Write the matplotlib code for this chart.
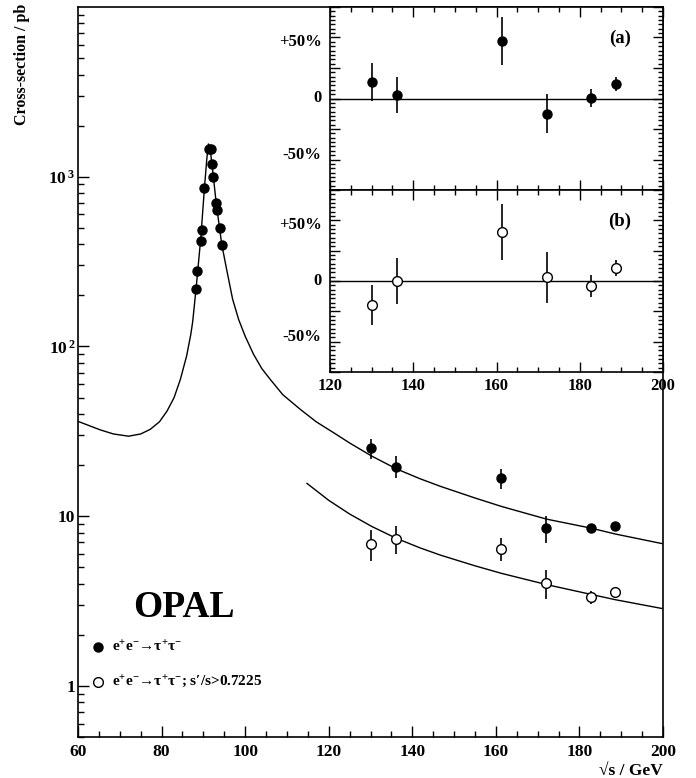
import numpy as np
import matplotlib.pyplot as plt
from matplotlib.ticker import MultipleLocator, FixedLocator, NullFormatter, LogLocator
import matplotlib.transforms as mtransforms

plt.rcParams['font.family'] = ['Liberation Serif', 'DejaVu Serif']
plt.rcParams['font.weight'] = 'bold'
plt.rcParams['mathtext.fontset'] = 'custom'
plt.rcParams['mathtext.rm'] = 'Liberation Serif:bold'
plt.rcParams['mathtext.it'] = 'Liberation Serif:bold'
plt.rcParams['mathtext.bf'] = 'Liberation Serif:bold'
plt.rcParams['mathtext.default'] = 'rm'

# --- data ---
# LEP1 (Z peak) points
z_energy = [88.26, 88.5, 89.36, 89.6, 90.25, 91.28, 91.85, 92.09, 92.33, 93.12, 93.36, 93.9, 94.4]
z_xsec = [219, 277, 419, 486, 853, 1462, 1456, 1192, 1000, 700, 637, 501, 394]

# LEP2 points
hi_energy = [130.1, 136.1, 161.3, 172.1, 182.7, 188.6]
xsec_all = [25.1, 19.6, 16.7, 8.47, 8.47, 8.74]
xsec_all_err = [3.4, 2.9, 2.2, 1.5, 0.5, 0.4]
xsec_hi = [6.87, 7.36, 6.45, 4.04, 3.32, 3.57]
xsec_hi_err = [1.4, 1.4, 1.0, 0.8, 0.3, 0.25]

# relative deviations from prediction (insets)
dev_a = [0.137, 0.030, 0.470, -0.123, 0.006, 0.120]
dev_a_err = [0.156, 0.148, 0.197, 0.160, 0.074, 0.057]
dev_b = [-0.197, 0.000, 0.404, 0.030, -0.041, 0.104]
dev_b_err = [0.164, 0.193, 0.230, 0.213, 0.090, 0.066]

# prediction curves
curve_e = [60, 65.4, 68.5, 72.1, 75, 77.3, 79.5, 81.3, 83, 84.5, 86, 87, 87.45,
           88.3, 89.4, 90.25, 90.8, 91.2, 91.6, 92.3, 93.1, 94.4, 95.5, 97,
           98.45, 100, 102, 104, 106, 109, 113.2, 117, 121.2, 125, 130.3,
           136.2, 141.9, 146.7, 155, 161.4, 172.2, 182.8, 188.6, 199.7]
curve_xs = [36.2, 32.2, 30.5, 29.6, 30.5, 32.5, 36, 41.6, 50, 64, 88, 118, 140,
            225, 440, 853, 1250, 1560, 1480, 1050, 690, 400, 290, 190,
            144, 115, 90, 74, 64, 52, 42.6, 36, 31.0, 27.0, 22.6,
            19.0, 16.6, 15.0, 12.8, 11.4, 9.6, 8.5, 7.85, 6.9]
curve2_e = [114.8, 120, 125, 130.3, 136.2, 141.9, 146.7, 155, 161.4, 172.2,
            182.8, 188.6, 199.7]
curve2_xs = [15.6, 12.4, 10.3, 8.7, 7.4, 6.5, 5.9, 5.1, 4.6, 3.95,
             3.46, 3.22, 2.86]

W, H = 696, 778
fig = plt.figure(figsize=(W / 100, H / 100), dpi=100)


def px_rect(l, t, r, b):
    return [l / W, 1 - b / H, (r - l) / W, (b - t) / H]


# ---------------- main panel ----------------
ax = fig.add_axes(px_rect(78, 7, 663, 737))
ax.set_yscale('log')
ax.set_xlim(60, 200)
ax.set_ylim(0.5, 1e4)

ax.plot(curve_e, curve_xs, color='black', lw=1.0)
ax.plot(curve2_e, curve2_xs, color='black', lw=1.0)

ax.plot(z_energy, z_xsec, 'o', color='black', ms=6.5, zorder=3)
ax.errorbar(hi_energy, xsec_all, yerr=xsec_all_err, fmt='o', color='black',
            ms=6.5, elinewidth=1.2, capsize=0, zorder=3)
ax.errorbar(hi_energy, xsec_hi, yerr=xsec_hi_err, fmt='o', color='black',
            mfc='white', mec='black', mew=1.0, ms=7, elinewidth=1.2,
            capsize=0, zorder=3)

ax.xaxis.set_major_locator(MultipleLocator(20))
ax.xaxis.set_minor_locator(MultipleLocator(5))
ax.yaxis.set_major_locator(FixedLocator([1, 10, 100, 1000]))
ax.set_yticklabels(['1', '10', r'10$^{\,2}$', r'10$^{\,3}$'])
ax.yaxis.set_minor_locator(LogLocator(base=10, subs=np.arange(2, 10)))
ax.yaxis.set_minor_formatter(NullFormatter())
ax.tick_params(which='both', direction='in', top=False, right=False,
               labelsize=12.5, width=1)
ax.tick_params(which='major', length=8)
ax.tick_params(which='minor', length=4.5)
ax.tick_params(axis='y', pad=2)
ax.tick_params(axis='x', pad=5)
for s in ax.spines.values():
    s.set_linewidth(1.2)

fig.text(22 / W, 1 - 4 / H, 'Cross-section / pb', rotation=90, ha='center',
         va='top', fontsize=11.5)
fig.text(663 / W, 1 - 771 / H, '√s / GeV', ha='right', va='center',
         fontsize=12.5)

# OPAL label and legend
fig.text(133 / W, 1 - 617 / H, 'OPAL', ha='left', va='baseline', fontsize=27)
fig.add_artist(plt.Line2D([98 / W], [1 - 647 / H], marker='o', color='black',
                          ms=6.5, transform=fig.transFigure))
fig.add_artist(plt.Line2D([98 / W], [1 - 682 / H], marker='o', color='black',
                          mfc='white', mew=1.0, ms=7,
                          transform=fig.transFigure))
fig.text(112 / W, 1 - 647 / H, r'e$^{+}$e$^{-}$→τ$^{+}$τ$^{-}$',
         ha='left', va='center', fontsize=11)
fig.text(112 / W, 1 - 682 / H, r'e$^{+}$e$^{-}$→τ$^{+}$τ$^{-}$; s′/s>0.7225',
         ha='left', va='center', fontsize=11)

# ---------------- insets ----------------
ax_a = fig.add_axes(px_rect(330, 7, 663, 190))
ax_b = fig.add_axes(px_rect(330, 190, 663, 372))

for axi, dev, err, filled, tag in [(ax_a, dev_a, dev_a_err, True, '(a)'),
                                   (ax_b, dev_b, dev_b_err, False, '(b)')]:
    axi.set_xlim(120, 200)
    axi.set_ylim(-0.75, 0.75)
    axi.axhline(0, color='black', lw=1.0, zorder=1)
    if filled:
        axi.errorbar(hi_energy, dev, yerr=err, fmt='o', color='black', ms=6.5,
                     elinewidth=1.2, capsize=0, zorder=3)
    else:
        axi.errorbar(hi_energy, dev, yerr=err, fmt='o', color='black',
                     mfc='white', mec='black', mew=1.0, ms=7, elinewidth=1.2,
                     capsize=0, zorder=3)
    axi.xaxis.set_major_locator(MultipleLocator(20))
    axi.xaxis.set_minor_locator(MultipleLocator(5))
    axi.yaxis.set_major_locator(MultipleLocator(0.25))
    axi.yaxis.set_minor_locator(MultipleLocator(0.25 / 7))
    axi.set_yticklabels([])
    axi.tick_params(which='both', direction='in', top=True, right=True,
                    labelsize=12, width=1)
    axi.tick_params(which='major', length=7.5)
    axi.tick_params(which='minor', length=3.8)
    for s in axi.spines.values():
        s.set_linewidth(1.2)
    axi.text(0.87, 0.49, tag, fontsize=13.5, ha='center', va='center',
             transform=mtransforms.blended_transform_factory(
                 axi.transAxes, axi.transData))
    for yv, lab in [(0.46, '+50%'), (0.0, '0'), (-0.46, '-50%')]:
        axi.text(-0.025, yv, lab, fontsize=12, ha='right', va='center',
                 transform=mtransforms.blended_transform_factory(
                     axi.transAxes, axi.transData))

ax_a.set_xticklabels([])
ax_b.tick_params(axis='x', labelsize=12, pad=4)

fig.savefig('out.png', dpi=100)
